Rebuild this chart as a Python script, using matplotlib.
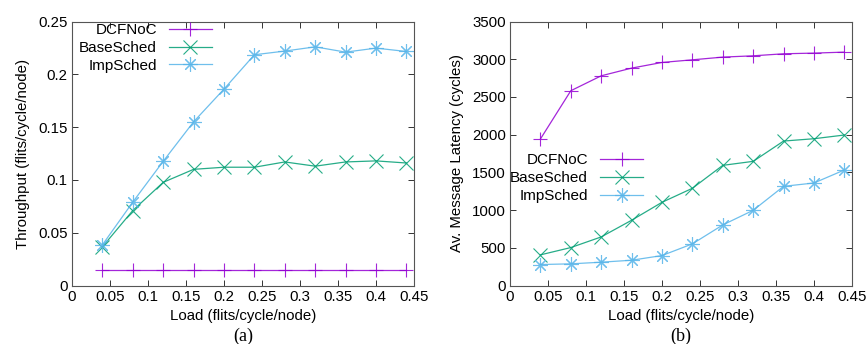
import matplotlib
matplotlib.use("Agg")
import matplotlib.pyplot as plt
from matplotlib.ticker import FuncFormatter

load = [0.04, 0.08, 0.12, 0.16, 0.20, 0.24, 0.28, 0.32, 0.36, 0.40, 0.44]

thr_dcfnoc = [0.015] * 11
thr_base = [0.0366, 0.071, 0.0977, 0.110, 0.112, 0.112, 0.117, 0.113, 0.117, 0.118, 0.116]
thr_imp = [0.0385, 0.079, 0.1176, 0.155, 0.186, 0.2185, 0.222, 0.226, 0.221, 0.2248, 0.2216]

lat_dcfnoc = [1942, 2582, 2780, 2882, 2957, 2992, 3028, 3045, 3072, 3081, 3094]
lat_base = [406, 503, 644, 865, 1103, 1289, 1593, 1646, 1915, 1946, 1995]
lat_imp = [278, 287, 309, 335, 397, 552, 803, 997, 1315, 1359, 1532]

labels = ["DCFNoC", "BaseSched", "ImpSched"]
colors = ["#9400D3", "#009E73", "#56B4E9"]
markers = ["+", "x", (8, 2, 0)]

xticks = [0, 0.05, 0.1, 0.15, 0.2, 0.25, 0.3, 0.35, 0.4, 0.45]
yticks_a = [0, 0.05, 0.1, 0.15, 0.2, 0.25]
yticks_b = [0, 500, 1000, 1500, 2000, 2500, 3000, 3500]

plt.rcParams['font.family'] = ['Liberation Sans', 'DejaVu Sans']
FS = 10.8
LFS = 11

fig = plt.figure(figsize=(8.68, 3.44), dpi=100)
W, H = 868, 344
def fr(x0, x1, ytop, ybot):
    return [x0 / W, 1 - ybot / H, (x1 - x0) / W, (ybot - ytop) / H]

ax1 = fig.add_axes(fr(72, 414, 21.5, 285.5))
ax2 = fig.add_axes(fr(510, 852, 21.5, 285.5))

fmt = FuncFormatter(lambda v, p: ("%g" % round(v, 6)))

def style(ax, yt, ylim, ylabel):
    ax.set_xlim(0, 0.45)
    ax.set_ylim(*ylim)
    ax.set_xticks(xticks)
    ax.set_yticks(yt)
    ax.xaxis.set_major_formatter(fmt)
    ax.yaxis.set_major_formatter(fmt)
    ax.tick_params(direction='in', length=4.5, width=0.7, top=True, right=True,
                   labelsize=FS, color='#333333', pad=3)
    for s in ax.spines.values():
        s.set_color('#555555')
        s.set_linewidth(0.8)
    ax.set_xlabel("Load (flits/cycle/node)", fontsize=FS, labelpad=4)
    ax.set_ylabel(ylabel, fontsize=FS, labelpad=6)

series_a = [thr_dcfnoc, thr_base, thr_imp]
series_b = [lat_dcfnoc, lat_base, lat_imp]

for ax, series in ((ax1, series_a), (ax2, series_b)):
    for y, lab, c, m in zip(series, labels, colors, markers):
        ax.plot(load, y, color=c, marker=m, markersize=10.5, markeredgewidth=0.8,
                linewidth=0.9, label=lab, alpha=0.85, clip_on=False)

style(ax1, yticks_a, (0, 0.25), "Throughput (flits/cycle/node)")
style(ax2, yticks_b, (0, 3500), "Av. Message Latency (cycles)")

leg_kw = dict(frameon=False, markerfirst=False, fontsize=LFS, handlelength=2.8,
              handletextpad=0.8, labelspacing=0.25, borderpad=0, borderaxespad=0,
              loc='center right')
ax1.legend(bbox_to_anchor=(0.409, 0.90), **leg_kw)
ax2.legend(bbox_to_anchor=(0.389, 0.407), **leg_kw)

fig.text((72 + 414) / 2 / W, 1 - 336 / H, "(a)", ha='center', va='center',
         fontsize=13, family=['Liberation Serif', 'DejaVu Serif'])
fig.text((510 + 852) / 2 / W, 1 - 336 / H, "(b)", ha='center', va='center',
         fontsize=13, family=['Liberation Serif', 'DejaVu Serif'])

fig.savefig("out.png", dpi=100)
